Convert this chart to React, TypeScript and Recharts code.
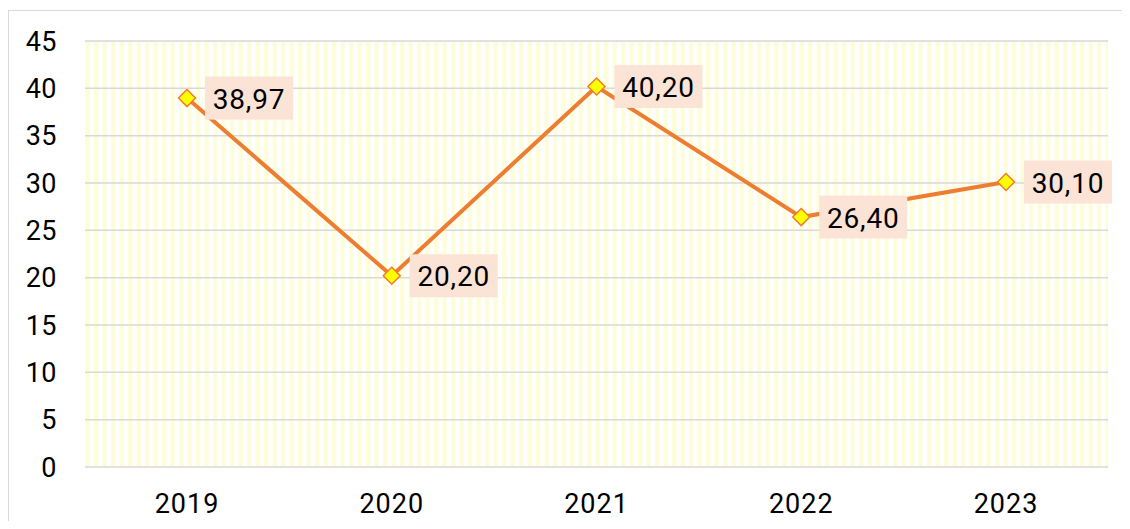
import React from "react";
import { LineChart, Line, XAxis, YAxis, CartesianGrid, LabelList } from "recharts";

const years = ["2019", "2020", "2021", "2022", "2023"];
const values = [38.97, 20.2, 40.2, 26.4, 30.1];
const yTicks = [0, 5, 10, 15, 20, 25, 30, 35, 40, 45];

const data = years.map((y, i) => ({ year: y, value: values[i] }));

const ORANGE = "#ED7D31";
const FONT = "Roboto, 'Noto Sans', sans-serif";

const Diamond = (props: any) => {
  const { cx, cy } = props;
  if (cx == null || cy == null) return null;
  const r = 8.5;
  return (
    <path
      d={`M${cx},${cy - r} L${cx + r},${cy} L${cx},${cy + r} L${cx - r},${cy} Z`}
      fill="#FFFF00"
      stroke={ORANGE}
      strokeWidth={1.5}
    />
  );
};

const ValueLabel = (props: any) => {
  const { x, y, value } = props;
  if (x == null || y == null) return null;
  const w = 88;
  const h = 43;
  const bx = x + 18;
  const by = y - h / 2;
  const txt = Number(value).toFixed(2).replace(".", ",");
  return (
    <g>
      <rect x={bx} y={by} width={w} height={h} fill="#FBE3D6" />
      <text
        x={bx + w / 2}
        y={y + 1}
        textAnchor="middle"
        dominantBaseline="central"
        fontSize={28}
        fontFamily={FONT}
        fill="#000"
        letterSpacing={0.8}
      >
        {txt}
      </text>
    </g>
  );
};

export default function App() {
  return (
    <div style={{ width: 1122, height: 513, overflow: "hidden", position: "relative" }}>
      <svg width={0} height={0} style={{ position: "absolute" }}>
        <defs>
          <pattern id="stripes" patternUnits="userSpaceOnUse" width={8.5} height={10} x={0} y={0}>
            <rect x={0} y={0} width={8.5} height={10} fill="#FFFFFF" />
            <rect x={0} y={0} width={4.3} height={10} fill="#FDFDDA" />
          </pattern>
        </defs>
      </svg>
      <div
        style={{
          position: "absolute",
          left: 0,
          top: 2,
          width: 1300,
          height: 700,
          borderLeft: "1px solid #d9d9d9",
          borderTop: "1px solid #d9d9d9",
        }}
      />
      <div style={{ position: "absolute", left: 1, top: 3 }}>
        <LineChart
          width={1121}
          height={510}
          data={data}
          margin={{ top: 30, right: 22, left: 0, bottom: 0 }}
        >
          <CartesianGrid
            vertical={false}
            stroke="#d9d9d9"
            strokeWidth={1.5}
            fill="url(#stripes)"
            fillOpacity={1}
          />
          <XAxis
            dataKey="year"
            axisLine={false}
            tickLine={false}
            height={54}
            padding={{ left: 102, right: 102 }}
            tickSize={0}
            tickMargin={27}
            tick={{ fontSize: 27, fill: "#000", fontFamily: FONT, letterSpacing: 1 }}
          />
          <YAxis
            width={76}
            domain={[0, 45]}
            ticks={yTicks}
            interval={0}
            axisLine={false}
            tickLine={false}
            tickSize={0}
            tickMargin={28}
            tick={{ fontSize: 27, fill: "#000", fontFamily: FONT, letterSpacing: 0.5 }}
          />
          <Line
            type="linear"
            dataKey="value"
            stroke={ORANGE}
            strokeWidth={4}
            dot={<Diamond />}
            activeDot={false}
            isAnimationActive={false}
          >
            <LabelList dataKey="value" content={<ValueLabel />} />
          </Line>
        </LineChart>
      </div>
    </div>
  );
}
